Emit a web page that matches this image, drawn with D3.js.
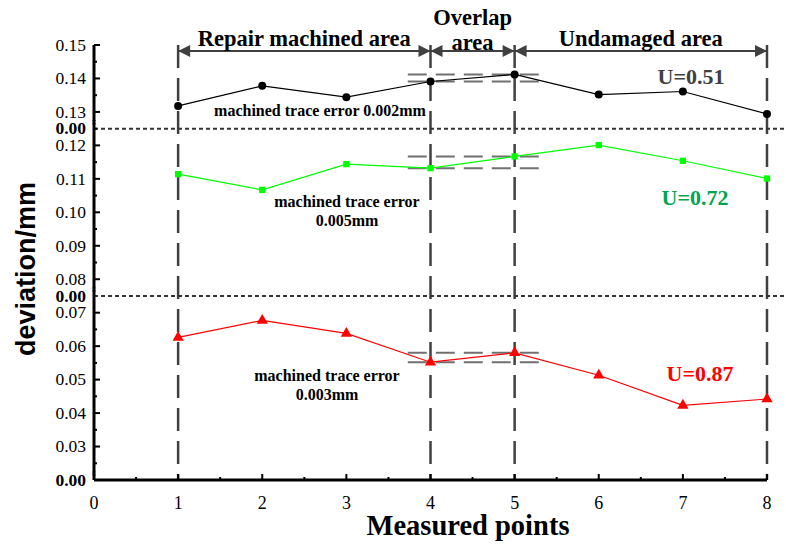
<!DOCTYPE html>
<meta charset="utf-8">
<script src="https://d3js.org/d3.v7.min.js"></script>
<style>
  body { margin: 0; background: #fff; }
  text { font-family: "Liberation Serif", "Times New Roman", serif; }
</style>
<div id="chart"></div>
<script>
// Measured points and deviations (mm) for the three traces
var points = [1, 2, 3, 4, 5, 6, 7, 8];
var black = [0.1318, 0.1378, 0.1344, 0.1391, 0.1412, 0.1352, 0.1361, 0.1294];
var green = [0.1114, 0.1067, 0.1144, 0.1132, 0.1167, 0.1201, 0.1154, 0.1101];
var red   = [0.0626, 0.0677, 0.0638, 0.0552, 0.0580, 0.0513, 0.0423, 0.0442];

// broken y axis: three stacked segments
var segDomains = [[0.125, 0.15], [0.075, 0.125], [0.02, 0.075]];
var segTicks = [[0.13, 0.14, 0.15], [0.08, 0.09, 0.10, 0.11, 0.12], [0.03, 0.04, 0.05, 0.06, 0.07]];
var segMinor = [[0.125, 0.135, 0.145], [0.085, 0.095, 0.105, 0.115], [0.025, 0.035, 0.045, 0.055, 0.065]];
var xTicks = [0, 1, 2, 3, 4, 5, 6, 7, 8];
var dividers = [1, 4, 5, 8];
var areas = [
  {from: 1, to: 4, label: ["Repair machined area"]},
  {from: 4, to: 5, label: ["Overlap", "area"]},
  {from: 5, to: 8, label: ["Undamaged area"]}
];

var W = 786, H = 549;
var plotTop = 45, plotBottom = 480, plotLeft = 94, plotRight = 767;

var svg = d3.select("#chart").append("svg")
  .attr("width", W).attr("height", H);

var defs = svg.append("defs");
defs.append("marker")
  .attr("id", "arr").attr("viewBox", "0 0 10 10")
  .attr("refX", 10).attr("refY", 5)
  .attr("markerWidth", 15).attr("markerHeight", 12)
  .attr("markerUnits", "userSpaceOnUse")
  .attr("orient", "auto-start-reverse")
  .append("path").attr("d", "M0,0L10,5L0,10Z").attr("fill", "#404040");

var x = d3.scaleLinear().domain([0, 8]).range([plotLeft, plotRight]);

// pixel heights proportional to value span
var total = d3.sum(segDomains, function(d) { return d[1] - d[0]; });
var pxPer = (plotBottom - plotTop) / total;
var ys = [];
var y0 = plotTop;
segDomains.forEach(function(d) {
  var h = (d[1] - d[0]) * pxPer;
  ys.push(d3.scaleLinear().domain(d).range([y0 + h, y0]));
  y0 += h;
});

// vertical dashed dividers
svg.selectAll(".div").data(dividers).enter().append("line")
  .attr("x1", function(d) { return x(d); }).attr("x2", function(d) { return x(d); })
  .attr("y1", plotTop).attr("y2", plotBottom)
  .attr("stroke", "#404040").attr("stroke-width", 2.5)
  .attr("stroke-dasharray", "23,10");

// break lines
[ys[0].range()[0], ys[1].range()[0]].forEach(function(yy) {
  svg.append("line")
    .attr("x1", plotLeft).attr("x2", W).attr("y1", yy).attr("y2", yy)
    .attr("stroke", "#333").attr("stroke-width", 2)
    .attr("stroke-dasharray", "4,3");
});

// y axis ticks + labels
segTicks.forEach(function(ticks, i) {
  var s = ys[i];
  ticks.forEach(function(t) {
    svg.append("line").attr("x1", plotLeft).attr("x2", plotLeft + 6)
      .attr("y1", s(t)).attr("y2", s(t)).attr("stroke", "#000").attr("stroke-width", 2);
    svg.append("text").attr("x", plotLeft - 8).attr("y", s(t)).attr("dy", "0.33em")
      .attr("text-anchor", "end").style("font-size", "17.5px").text(d3.format(".2f")(t));
  });
  segMinor[i].forEach(function(t) {
    svg.append("line").attr("x1", plotLeft).attr("x2", plotLeft + 3)
      .attr("y1", s(t)).attr("y2", s(t)).attr("stroke", "#000").attr("stroke-width", 2);
  });
  // bold "0.00" at the bottom of each segment
  svg.append("text").attr("x", plotLeft - 8).attr("y", s.range()[0]).attr("dy", "0.33em")
    .attr("text-anchor", "end").style("font-size", "17.5px").style("font-weight", "bold")
    .text("0.00");
  // small break marks
  [-8, -5].forEach(function(o) {
    svg.append("line").attr("x1", plotLeft - 2).attr("x2", plotLeft + 2)
      .attr("y1", s.range()[0] + o).attr("y2", s.range()[0] + o)
      .attr("stroke", "#777").attr("stroke-width", 1);
  });
});

// axes lines
svg.append("line").attr("x1", plotLeft).attr("x2", plotLeft).attr("y1", plotTop).attr("y2", plotBottom)
  .attr("stroke", "#000").attr("stroke-width", 3);
svg.append("line").attr("x1", plotLeft).attr("x2", plotRight).attr("y1", plotBottom).attr("y2", plotBottom)
  .attr("stroke", "#000").attr("stroke-width", 3);

// x ticks
xTicks.forEach(function(t) {
  svg.append("line").attr("x1", x(t)).attr("x2", x(t)).attr("y1", plotBottom).attr("y2", plotBottom - 6)
    .attr("stroke", "#000").attr("stroke-width", 2);
  if (t < 8) svg.append("line").attr("x1", x(t + 0.5)).attr("x2", x(t + 0.5))
    .attr("y1", plotBottom).attr("y2", plotBottom - 3).attr("stroke", "#000").attr("stroke-width", 2);
  svg.append("text").attr("x", x(t)).attr("y", 509).attr("text-anchor", "middle")
    .style("font-size", "18px").text(t);
});

svg.append("text").attr("x", 468).attr("y", 535).attr("text-anchor", "middle")
  .style("font-size", "28.5px").style("font-weight", "bold").text("Measured points");

svg.append("text").attr("transform", "translate(35,269) rotate(-90)")
  .attr("text-anchor", "middle")
  .style("font-family", "'Liberation Sans', Arial, sans-serif")
  .style("font-size", "27px").style("font-weight", "bold").text("deviation/mm");

// overlap reference dashes
function refLines(vals, s) {
  [vals[3], vals[4]].forEach(function(v) {
    svg.append("line").attr("x1", x(3.73)).attr("x2", x(5.3))
      .attr("y1", s(v)).attr("y2", s(v))
      .attr("stroke", "#707070").attr("stroke-width", 2)
      .attr("stroke-dasharray", "19,9");
  });
}
refLines(black, ys[0]);
refLines(green, ys[1]);
refLines(red, ys[2]);

// series
function series(vals, s, color, shape, size) {
  var line = d3.line().x(function(d, i) { return x(points[i]); }).y(function(d) { return s(d); });
  svg.append("path").datum(vals).attr("d", line)
    .attr("fill", "none").attr("stroke", color).attr("stroke-width", 1.2);
  svg.selectAll(null).data(vals).enter().append("path")
    .attr("transform", function(d, i) { return "translate(" + x(points[i]) + "," + s(d) + ")"; })
    .attr("d", d3.symbol().type(shape).size(size))
    .attr("fill", color);
}
series(black, ys[0], "#000", d3.symbolCircle, 50);
series(green, ys[1], "#00ff00", d3.symbolSquare, 40);
series(red, ys[2], "#ff0000", d3.symbolTriangle, 55);

// area arrows
areas.forEach(function(a) {
  svg.append("line").attr("x1", x(a.from)).attr("x2", x(a.to)).attr("y1", 51).attr("y2", 51)
    .attr("stroke", "#404040").attr("stroke-width", 2)
    .attr("marker-start", "url(#arr)").attr("marker-end", "url(#arr)");
  var cx = (x(a.from) + x(a.to)) / 2;
  if (a.label.length === 1) {
    svg.append("text").attr("x", cx).attr("y", 45.5).attr("text-anchor", "middle")
      .style("font-size", "22.5px").style("font-weight", "bold").text(a.label[0]);
  } else {
    svg.append("text").attr("x", cx).attr("y", 24.5).attr("text-anchor", "middle")
      .style("font-size", "22.5px").style("font-weight", "bold").text(a.label[0]);
    svg.append("text").attr("x", cx).attr("y", 50).attr("text-anchor", "middle")
      .style("font-size", "22.5px").style("font-weight", "bold").text(a.label[1]);
  }
});

// annotations
function note(lines, cx, cy) {
  lines.forEach(function(t, i) {
    svg.append("text").attr("x", cx).attr("y", cy + i * 19).attr("text-anchor", "middle")
      .style("font-size", "16px").style("font-weight", "bold").text(t);
  });
}
note(["machined trace error 0.002mm"], 320, 116);
note(["machined trace error", "0.005mm"], 347, 207);
note(["machined trace error", "0.003mm"], 327, 381);

svg.append("text").attr("x", 691).attr("y", 84).attr("text-anchor", "middle")
  .style("font-size", "22px").style("font-weight", "bold").style("fill", "#404040").text("U=0.51");
svg.append("text").attr("x", 695).attr("y", 205).attr("text-anchor", "middle")
  .style("font-size", "22px").style("font-weight", "bold").style("fill", "#00a550").text("U=0.72");
svg.append("text").attr("x", 700).attr("y", 381).attr("text-anchor", "middle")
  .style("font-size", "22px").style("font-weight", "bold").style("fill", "#ff0000").text("U=0.87");
</script>
